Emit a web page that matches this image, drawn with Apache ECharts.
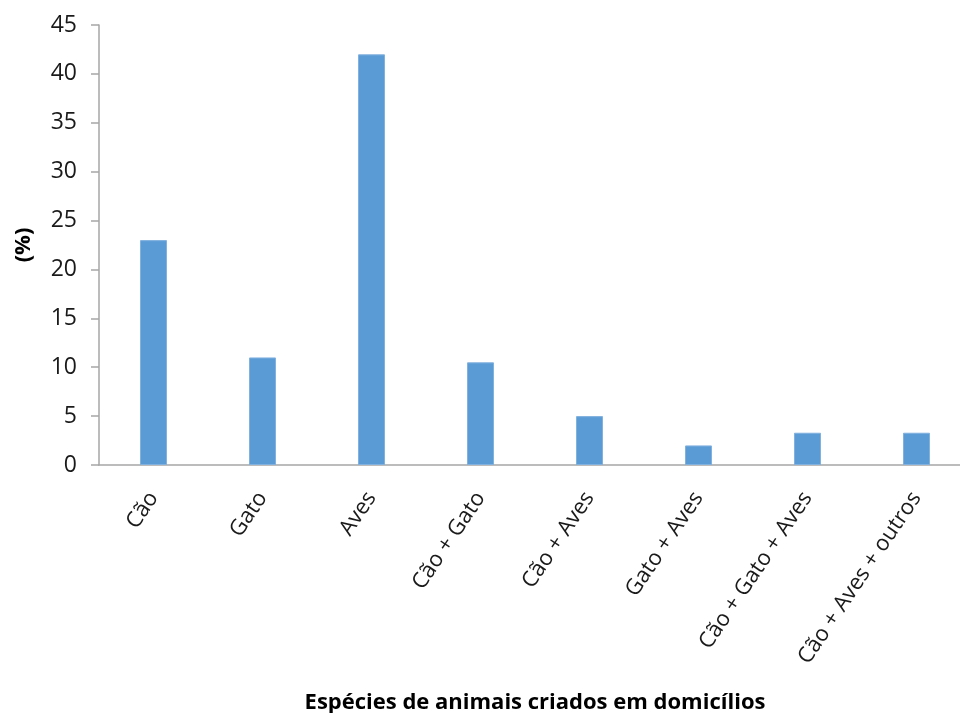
<!DOCTYPE html>
<html>
<head>
<meta charset="utf-8">
<script src="https://cdn.jsdelivr.net/npm/echarts@6/dist/echarts.min.js"></script>
<style>
  html, body { margin: 0; padding: 0; background: #fff; }
  #chart { width: 960px; height: 713px; }
</style>
</head>
<body>
<div id="chart"></div>
<script>
const categories = ['Cão', 'Gato', 'Aves', 'Cão + Gato', 'Cão + Aves', 'Gato + Aves', 'Cão + Gato + Aves', 'Cão + Aves + outros'];
const percentages = [23, 11, 42, 10.5, 5, 2, 3.3, 3.3];

const font = '"Open Sans", sans-serif';

const chart = echarts.init(document.getElementById('chart'));
chart.setOption({
  animation: false,
  grid: { left: 99, top: 25, width: 872, bottom: 248, outerBoundsMode: 'none', containLabel: false },
  xAxis: {
    type: 'category',
    data: categories,
    name: 'Espécies de animais criados em domicílios',
    nameLocation: 'middle',
    nameGap: 227,
    nameTextStyle: { fontFamily: font, fontSize: 22, fontWeight: 'bold', color: '#000' },
    axisLine: { lineStyle: { color: '#a6a6a6', width: 1.5 } },
    axisTick: { show: false },
    axisLabel: {
      rotate: 56,
      interval: 0,
      margin: 29,
      fontFamily: font,
      fontSize: 22,
      color: '#1a1a1a'
    }
  },
  yAxis: {
    type: 'value',
    min: 0,
    max: 45,
    interval: 5,
    name: '(%)',
    nameLocation: 'middle',
    nameGap: 64,
    nameTextStyle: { fontFamily: font, fontSize: 22, fontWeight: 'bold', color: '#000' },
    axisLine: { show: true, lineStyle: { color: '#a6a6a6', width: 1.5 } },
    axisTick: { show: true, length: 8, lineStyle: { color: '#a6a6a6', width: 1.5 } },
    splitLine: { show: false },
    axisLabel: { margin: 22, fontFamily: font, fontSize: 23, color: '#1a1a1a' }
  },
  series: [{
    type: 'bar',
    data: percentages,
    barWidth: 27,
    itemStyle: { color: '#5b9bd5', borderColor: '#80b1df', borderWidth: 1 }
  }]
});
</script>
</body>
</html>
